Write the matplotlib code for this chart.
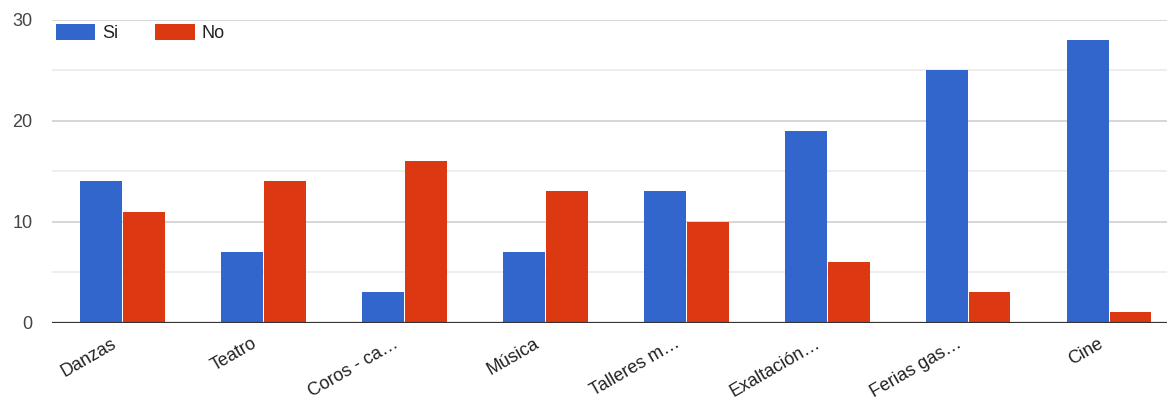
import matplotlib.pyplot as plt
import matplotlib.transforms as mtransforms
import numpy as np

plt.rcParams['font.family'] = ['Liberation Sans', 'DejaVu Sans']

# data
categories = ['Danzas', 'Teatro', 'Coros - ca…', 'Música', 'Talleres m…',
              'Exaltación…', 'Ferias gas…', 'Cine']
si = [14, 7, 3, 7, 13, 19, 25, 28]
no = [11, 14, 16, 13, 10, 6, 3, 1]

blue = '#3366cc'
red = '#dc3912'

fig = plt.figure(figsize=(11.67, 4.01), dpi=100)
ax = fig.add_axes([52 / 1167, 1 - 322.5 / 401, 1 - 52 / 1167, 302.5 / 401])

x = np.arange(len(categories))
w = 0.295
ax.bar(x - 0.152, si, width=w, color=blue, label='Si', zorder=3)
ax.bar(x + 0.152, no, width=w, color=red, label='No', zorder=3)

# gridlines
ax.set_yticks([0, 10, 20, 30])
ax.set_yticks([5, 15, 25], minor=True)
ax.grid(axis='y', which='major', color='#d0d0d0', linewidth=1.2, zorder=0)
ax.grid(axis='y', which='minor', color='#ebebeb', linewidth=1.2, zorder=0)
ax.axhline(0, color='#333333', linewidth=1.6, zorder=4)

ax.set_xlim(-0.5, 7.41)
ax.set_ylim(0, 30)
for s in ax.spines.values():
    s.set_visible(False)

ax.tick_params(axis='y', which='both', length=0, pad=14, labelsize=13,
               labelcolor='#444444')
ax.tick_params(axis='x', length=0, pad=9, labelsize=13, labelcolor='#222222')
ax.set_xticks(x)
ax.set_xticklabels(categories, rotation=30, ha='right', rotation_mode='anchor')
# nudge rotated labels left, like the original
shift = mtransforms.ScaledTranslation(-12 / 100, 0, fig.dpi_scale_trans)
for lbl in ax.get_xticklabels():
    lbl.set_transform(lbl.get_transform() + shift)

ax.legend(loc='upper left', bbox_to_anchor=(0, 1), borderaxespad=0,
          borderpad=0.2, frameon=False, ncol=2, fontsize=13,
          handlelength=2.2, handleheight=1.0, handletextpad=0.4,
          columnspacing=2.0, labelcolor='#222222')

fig.savefig('out.png', dpi=100)
